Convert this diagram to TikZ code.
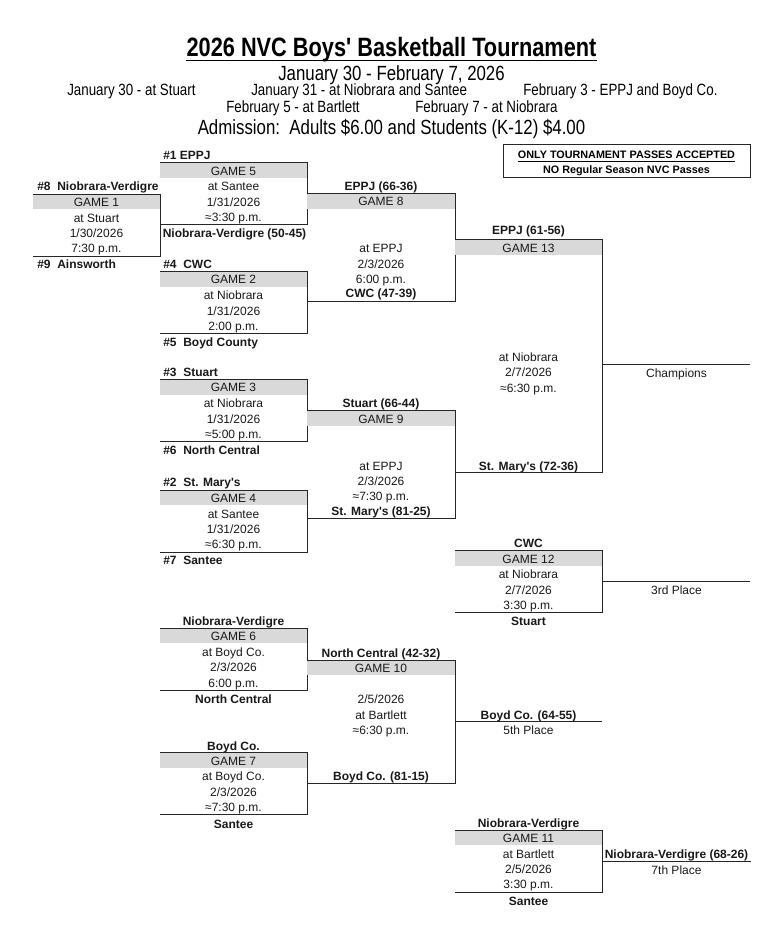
\documentclass[tikz,border=0pt]{standalone}
\usepackage{fontspec}
\setmainfont{Liberation Sans}[Ligatures=TeXOff]
\newfontfamily\narrowfont[FakeStretch=0.82]{Liberation Sans}
\newcommand{\gamebox}[5]{%
  \coordinate (#1tl) at (#2,#4); \coordinate (#1tr) at (#3,#4);
  \coordinate (#1br) at (#3,#5); \coordinate (#1bl) at (#2,#5);
  \fill[shade] (#1tl) rectangle ([yshift=-11.25pt]#1tr);
  \draw[bline] (#1tl) -- (#1tr) -- (#1br) -- (#1bl);}
% standard four-line game: name, x1, x2, top, title, line1, line2, line3
\newcommand{\stdgame}[8]{%
  \gamebox{#1}{#2}{#3}{#4}{#4+62}
  \node[body] (#1h) at ({(#2+#3)/2},#4+8.2) {#5};
  \node[body] (#1l1) at ({(#2+#3)/2},#4+23.8) {#6};
  \node[body] (#1l2) at ({(#2+#3)/2},#4+39.3) {#7};
  \node[body] (#1l3) at ({(#2+#3)/2},#4+54.6) {#8};}
\tikzset{
  body/.style={inner sep=0pt, font=\fontsize{9}{10}\selectfont, anchor=base, yshift=-3.2pt, text=black!90},
  bodyb/.style={body, font=\fontsize{9}{10}\selectfont\bfseries},
  lab/.style={bodyb, anchor=base west},
  shade/.style={fill=black!15},
  bline/.style={draw=black!85, line width=0.7pt},
  hdr/.style={inner sep=0pt, anchor=base, font=\narrowfont\fontsize{15.4}{17}\selectfont},
  hdrs/.style={inner sep=0pt, anchor=base west, font=\narrowfont\fontsize{12.2}{14}\selectfont},
  note/.style={inner sep=0pt, anchor=base, font=\fontsize{8.1}{9}\selectfont\bfseries, yshift=-2.9pt},
}
\begin{document}
\begin{tikzpicture}[x=0.75pt,y=-0.75pt]
\useasboundingbox (0,0) rectangle (764,938);
% header
\node[inner sep=0pt, anchor=base, font=\narrowfont\fontsize{19.9}{22}\selectfont\bfseries] (title) at (391.5,57) {2026 NVC Boys' Basketball Tournament};
\draw[line width=1.1pt] ([yshift=-2.6pt]title.base west) -- ([yshift=-2.6pt]title.base east);
\node[hdr] (dates) at (391.5,80.3) {January 30 - February 7, 2026};
\node[hdrs] (d1) at (67,95.8) {January 30 - at Stuart};
\node[hdrs] (d2) at (251,95.8) {January 31 - at Niobrara and Santee};
\node[hdrs] (d3) at (523,95.8) {February 3 - EPPJ and Boyd Co.};
\node[hdrs] (d4) at (226,112.8) {February 5 - at Bartlett};
\node[hdrs] (d5) at (415,112.8) {February 7 - at Niobrara};
\node[hdr] (adm) at (391.5,134.3) {Admission:\ \ Adults \$6.00 and Students (K-12) \$4.00};
% note box
\draw[bline] (503,144) rectangle (750,177.3);
\node[note] (n1) at (626.5,155) {\underline{ONLY TOURNAMENT PASSES ACCEPTED}};
\node[note] (n2) at (626.5,169.5) {NO Regular Season NVC Passes};

% Game 1
\stdgame{g1}{33}{160}{194}{GAME 1}{at Stuart}{1/30/2026}{7:30 p.m.}
\node[lab] (g1a) at (37,186.5) {\#8~~Niobrara-Verdigre};
\node[lab] (g1b) at (37,264.5) {\#9~~Ainsworth};

% Game 5
\stdgame{g5}{160}{307}{162.7}{GAME 5}{at Santee}{1/31/2026}{≈3:30 p.m.}
\node[lab] (g5a) at (163,155) {\#1 EPPJ};
\node[bodyb] (g5b) at (234.5,233.2) {Niobrara-Verdigre (50-45)};

% Game 2
\stdgame{g2}{160}{307}{271.5}{GAME 2}{at Niobrara}{1/31/2026}{2:00 p.m.}
\node[lab] (g2a) at (163,264) {\#4~~CWC};
\node[lab] (g2b) at (163,342) {\#5~~Boyd County};

% Game 8
\gamebox{g8}{307}{455}{193.5}{301.7}
\node[bodyb] (g8a) at (381,186.7) {EPPJ (66-36)};
\node[body] (g8h) at (381,201.7) {GAME 8};
\node[body] (g8l1) at (381,248.3) {at EPPJ};
\node[body] (g8l2) at (381,264) {2/3/2026};
\node[body] (g8l3) at (381,279) {6:00 p.m.};
\node[bodyb] (g8b) at (381,293.3) {CWC (47-39)};

% Game 13
\gamebox{g13}{455}{602}{239.5}{472.7}
\node[bodyb] (g13a) at (528.5,230.5) {EPPJ (61-56)};
\node[body] (g13h) at (528.5,248.3) {GAME 13};
\node[body] (g13l1) at (528.5,357.3) {at Niobrara};
\node[body] (g13l2) at (528.5,372.7) {2/7/2026};
\node[body] (g13l3) at (528.5,388.3) {≈6:30 p.m.};
\node[bodyb] (g13b) at (528.5,466) {St. Mary's (72-36)};
\coordinate (champ) at (750,364);
\draw[bline] (602,364) -- (champ);
\node[body] (champt) at (676.5,373) {Champions};

% Game 3
\stdgame{g3}{160}{307}{379.5}{GAME 3}{at Niobrara}{1/31/2026}{≈5:00 p.m.}
\node[lab] (g3a) at (163,372.7) {\#3~~Stuart};
\node[lab] (g3b) at (163,450.3) {\#6~~North Central};

% Game 9
\gamebox{g9}{307}{455}{410.7}{518.7}
\node[bodyb] (g9a) at (381,403.3) {Stuart (66-44)};
\node[body] (g9h) at (381,419.3) {GAME 9};
\node[body] (g9l1) at (381,466.7) {at EPPJ};
\node[body] (g9l2) at (381,481.7) {2/3/2026};
\node[body] (g9l3) at (381,496.7) {≈7:30 p.m.};
\node[bodyb] (g9b) at (381,511.7) {St. Mary's (81-25)};

% Game 4
\stdgame{g4}{160}{307}{490}{GAME 4}{at Santee}{1/31/2026}{≈6:30 p.m.}
\node[lab] (g4a) at (163,482.7) {\#2~~St. Mary's};
\node[lab] (g4b) at (163,560.7) {\#7~~Santee};

% Game 12
\stdgame{g12}{455}{602}{550.7}{GAME 12}{at Niobrara}{2/7/2026}{3:30 p.m.}
\node[bodyb] (g12a) at (528.5,543.3) {CWC};
\node[bodyb] (g12b) at (528.5,621) {Stuart};
\coordinate (third) at (750,581);
\draw[bline] (602,581) -- (third);
\node[body] (thirdt) at (676.5,590) {3rd Place};

% Game 6
\stdgame{g6}{160}{307}{628.3}{GAME 6}{at Boyd Co.}{2/3/2026}{6:00 p.m.}
\node[bodyb] (g6a) at (233.5,621.7) {Niobrara-Verdigre};
\node[bodyb] (g6b) at (233.5,699.3) {North Central};

% Game 10
\gamebox{g10}{307}{455}{660}{783.3}
\node[bodyb] (g10a) at (381,653.3) {North Central (42-32)};
\node[body] (g10h) at (381,668.3) {GAME 10};
\node[body] (g10l1) at (381,699.3) {2/5/2026};
\node[body] (g10l2) at (381,715) {at Bartlett};
\node[body] (g10l3) at (381,730) {≈6:30 p.m.};
\node[bodyb] (g10b) at (381,776.7) {Boyd Co. (81-15)};
\coordinate (fifth) at (602,721.7);
\draw[bline] (455,721.7) -- (fifth);
\node[bodyb] (fiftha) at (528.5,715) {Boyd Co. (64-55)};
\node[body] (fiftht) at (528.5,730.7) {5th Place};

% Game 7
\stdgame{g7}{160}{307}{752.7}{GAME 7}{at Boyd Co.}{2/3/2026}{≈7:30 p.m.}
\node[bodyb] (g7a) at (233.5,746) {Boyd Co.};
\node[bodyb] (g7b) at (233.5,824) {Santee};

% Game 11
\stdgame{g11}{455}{602}{830}{GAME 11}{at Bartlett}{2/5/2026}{3:30 p.m.}
\node[bodyb] (g11a) at (528.5,823.3) {Niobrara-Verdigre};
\node[bodyb] (g11b) at (528.5,901.7) {Santee};
\coordinate (seventh) at (751,861.7);
\draw[bline] (602,861.7) -- (seventh);
\node[bodyb] (sevtha) at (676.5,854) {Niobrara-Verdigre (68-26)};
\node[body] (sevtht) at (676.5,870) {7th Place};
\end{tikzpicture}
\end{document}
